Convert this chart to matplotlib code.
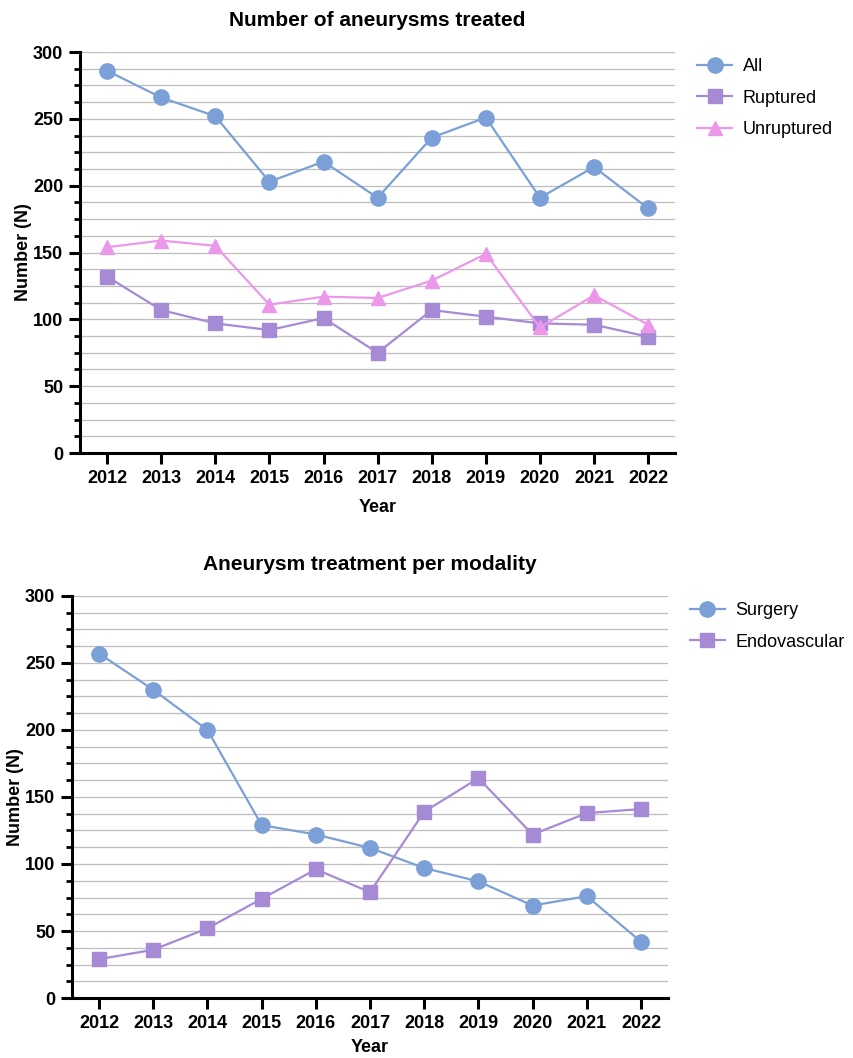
import matplotlib
matplotlib.use("Agg")
import matplotlib.pyplot as plt
from matplotlib.ticker import MultipleLocator

plt.rcParams['font.family'] = ['Liberation Sans', 'DejaVu Sans']

years = [2012, 2013, 2014, 2015, 2016, 2017, 2018, 2019, 2020, 2021, 2022]
all_treated = [286, 266, 252, 203, 218, 191, 236, 251, 191, 214, 183]
ruptured = [132, 107, 97, 92, 101, 75, 107, 102, 97, 96, 87]
unruptured = [154, 159, 155, 111, 117, 116, 129, 149, 94, 118, 96]
surgery = [257, 230, 200, 129, 122, 112, 97, 87, 69, 76, 42]
endovascular = [29, 36, 52, 74, 96, 79, 139, 164, 122, 138, 141]

BLUE = '#7BA0D8'
PURPLE = '#A68AD6'
PINK = '#EB98EB'

fig = plt.figure(figsize=(8.54, 10.58), dpi=100)
ax1 = fig.add_axes([0.0937, 0.5718, 0.697, 0.379])
ax2 = fig.add_axes([0.0843, 0.0567, 0.698, 0.380])


def style(ax, title, xpad):
    ax.set_xlim(2011.5, 2022.5)
    ax.set_ylim(0, 300)
    ax.yaxis.set_major_locator(MultipleLocator(50))
    ax.yaxis.set_minor_locator(MultipleLocator(12.5))
    ax.set_xticks(years)
    ax.set_xticklabels([str(y) for y in years], fontweight='bold', fontsize=13)
    for lbl in ax.get_yticklabels():
        lbl.set_fontweight('bold')
        lbl.set_fontsize(13)
    ax.grid(True, which='both', axis='y', color='#BDBDBD', linewidth=0.9)
    ax.set_axisbelow(True)
    for s in ['top', 'right']:
        ax.spines[s].set_visible(False)
    for s in ['left', 'bottom']:
        ax.spines[s].set_linewidth(2.2)
        ax.spines[s].set_color('black')
    ax.tick_params(axis='both', which='major', length=8, width=2.2, color='black', pad=4)
    ax.tick_params(axis='y', which='minor', length=4, width=2, color='black')
    ax.set_xlabel('Year', fontweight='bold', fontsize=13, labelpad=xpad)
    ax.set_ylabel('Number (N)', fontweight='bold', fontsize=13, labelpad=1)
    ax.set_title(title, fontweight='bold', fontsize=15, pad=19)


ax1.plot(years, all_treated, '-o', color=BLUE, lw=1.6, ms=11, label='All')
ax1.plot(years, ruptured, '-s', color=PURPLE, lw=1.6, ms=10, label='Ruptured')
ax1.plot(years, unruptured, '-^', color=PINK, lw=1.6, ms=10, label='Unruptured')
style(ax1, 'Number of aneurysms treated', 9)
ax1.legend(loc='upper left', bbox_to_anchor=(1.01, 1.025), frameon=False, fontsize=13,
           handlelength=1.9, handletextpad=0.6, labelspacing=0.8)

ax2.plot(years, surgery, '-o', color=BLUE, lw=1.6, ms=11, label='Surgery')
ax2.plot(years, endovascular, '-s', color=PURPLE, lw=1.6, ms=10, label='Endovascular')
style(ax2, 'Aneurysm treatment per modality', 5)
ax2.legend(loc='upper left', bbox_to_anchor=(1.01, 1.025), frameon=False, fontsize=13,
           handlelength=1.9, handletextpad=0.6, labelspacing=0.8)

fig.savefig('out.png', dpi=100)
